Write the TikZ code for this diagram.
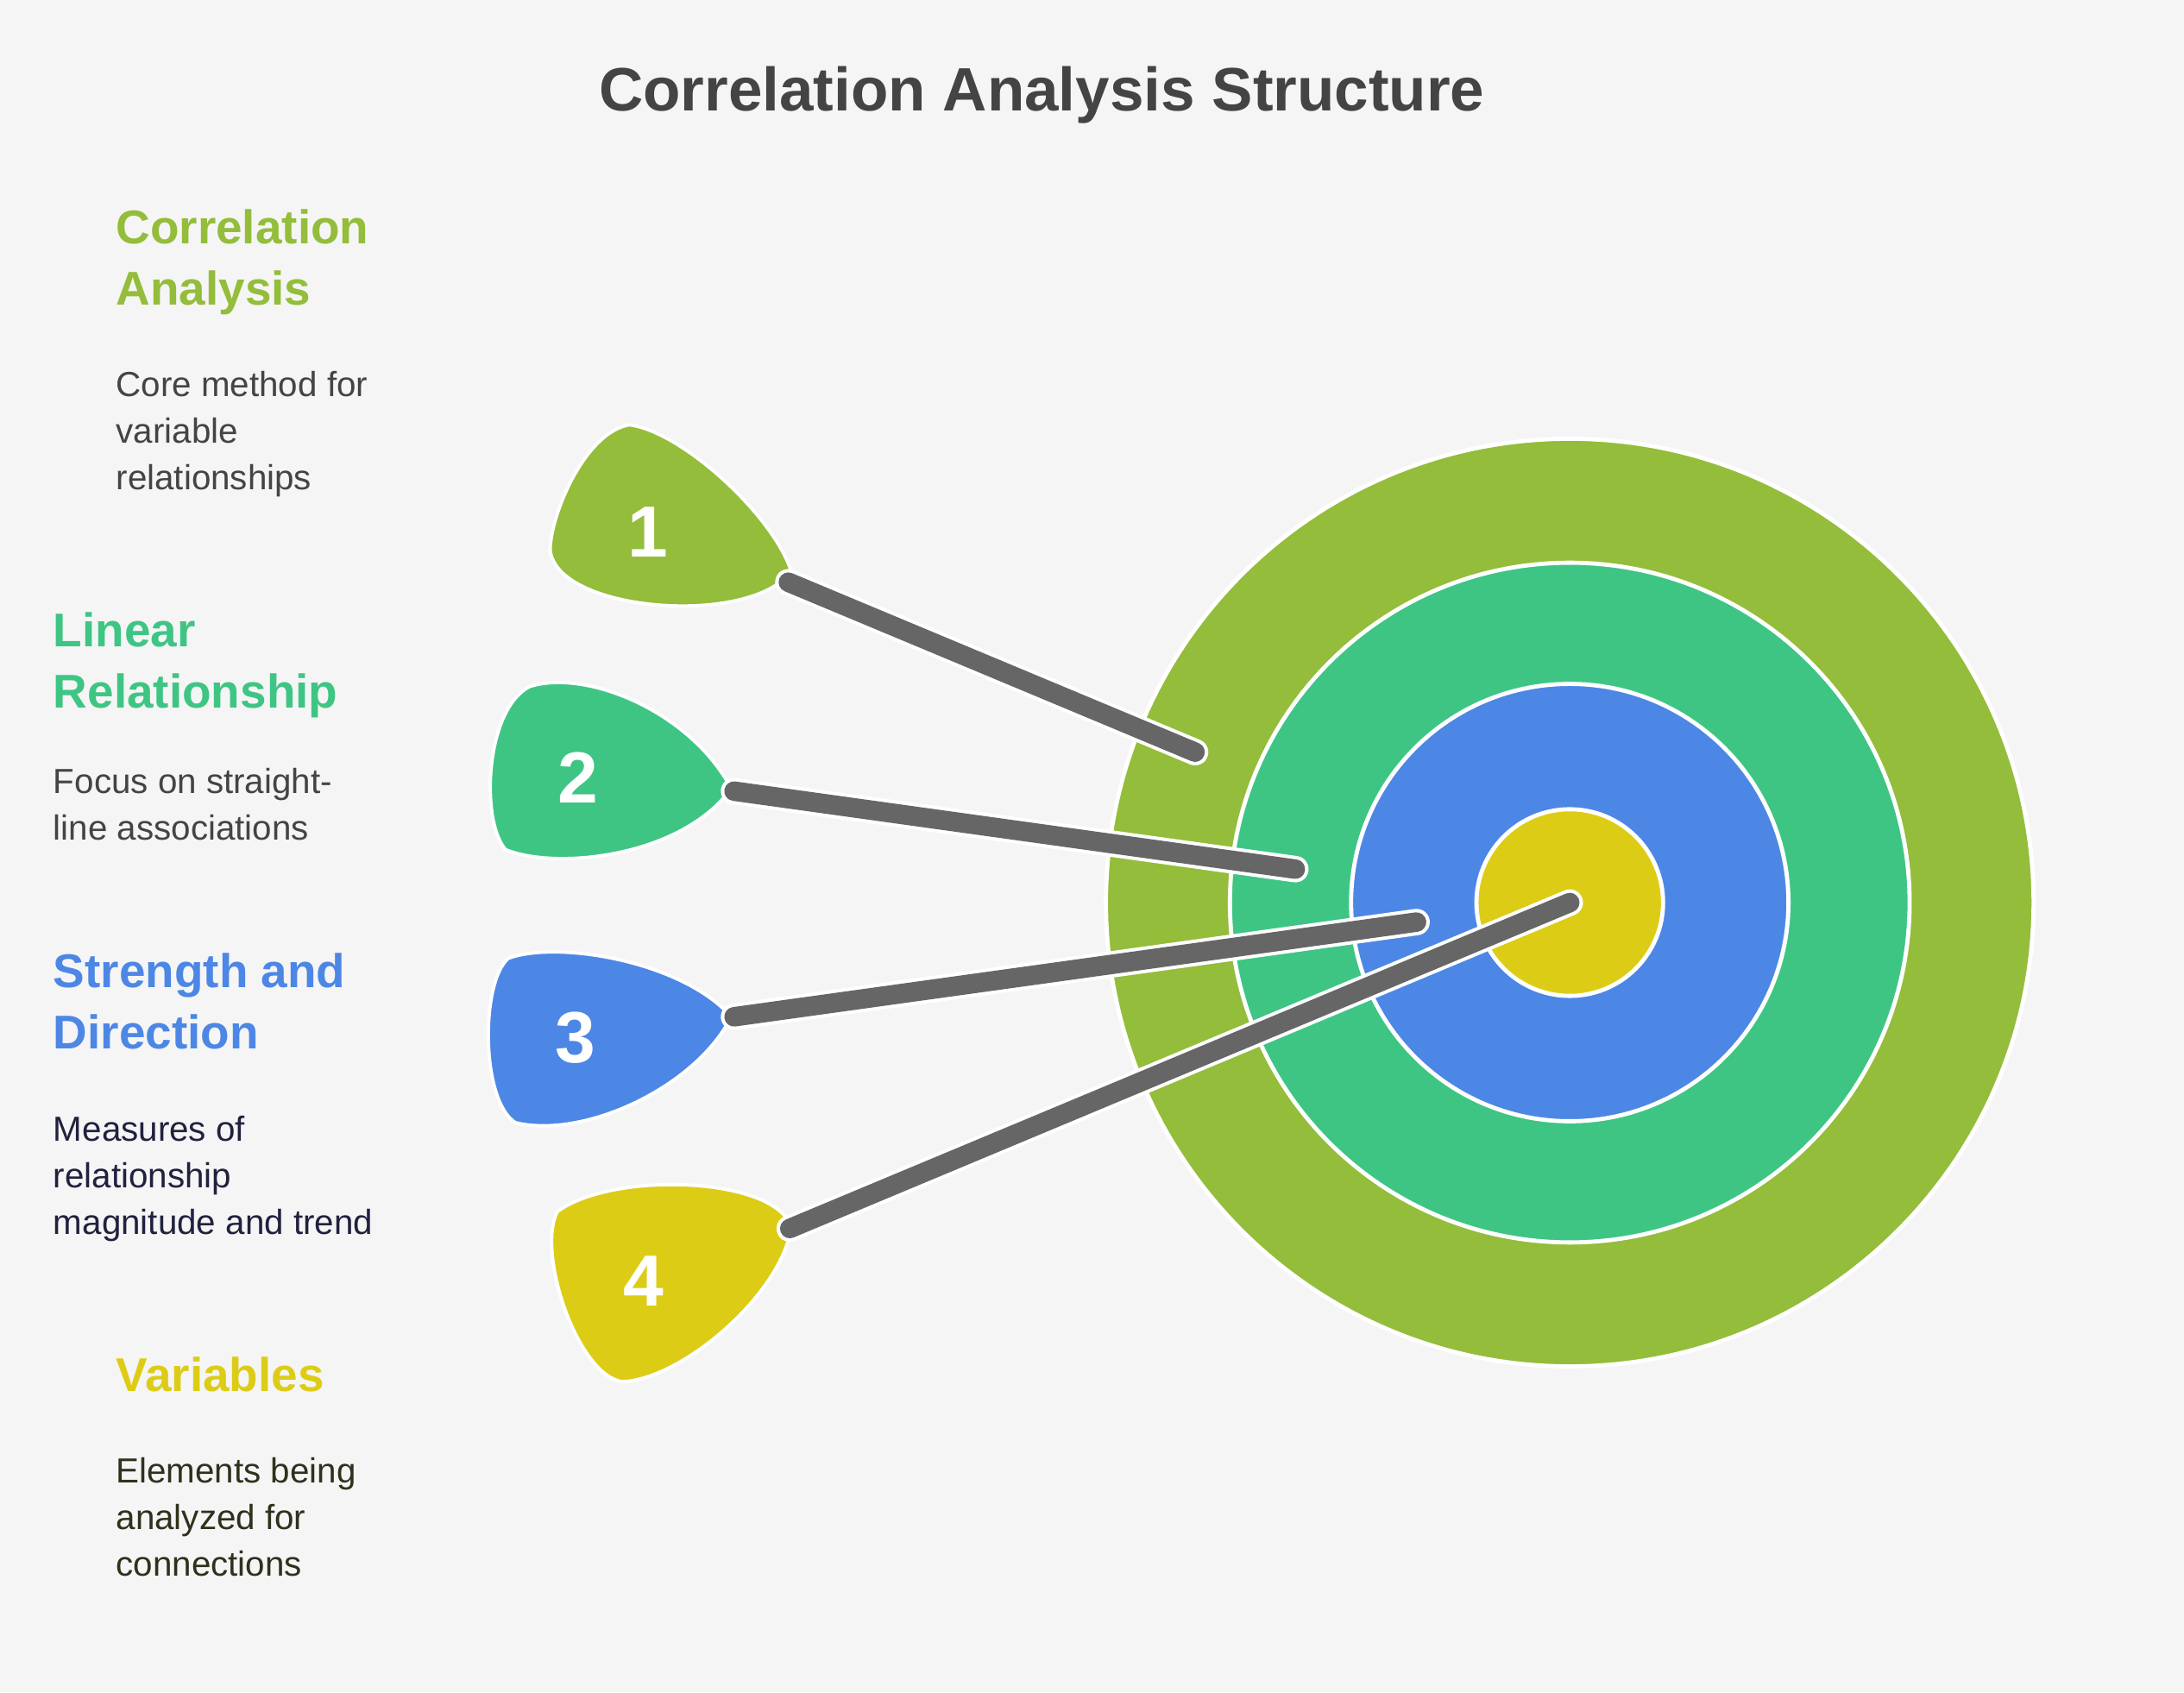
\documentclass[tikz,border=0pt]{standalone}
\usepackage{fontspec}
\setmainfont{Liberation Sans}
\usetikzlibrary{positioning}
\definecolor{bgcol}{HTML}{F5F5F5}
\definecolor{cgreen}{HTML}{93BD3A}
\definecolor{cteal}{HTML}{3EC584}
\definecolor{cblue}{HTML}{4D87E5}
\definecolor{cyellow}{HTML}{DDCC16}
\definecolor{cshaft}{HTML}{666666}
\definecolor{ctitle}{HTML}{444444}
\tikzset{
  ring/.style={draw=white, line width=1.5pt},
  dart/.style={draw=white, line width=1.2pt},
  shaft/.style={draw=cshaft, line width=7pt, line cap=round},
  num/.style={text=white, font=\bfseries\fontsize{26}{30}\selectfont},
  head/.style={anchor=north west, inner sep=0pt, align=left, font=\bfseries\fontsize{17}{22}\selectfont},
  body/.style={anchor=north west, inner sep=0pt, align=left, font=\fontsize{12.5}{16.75}\selectfont},
}
\begin{document}
\begin{tikzpicture}[x=0.5pt,y=-0.5pt]
\fill[bgcol] (0,0) rectangle (1568,1215);
\useasboundingbox (0,0) rectangle (1568,1215);

% title
\node (title) [text=ctitle, font=\bfseries\fontsize{22}{26}\selectfont] at (748,68) {Correlation Analysis Structure};

% target
\coordinate (ctr) at (1127,648);
\filldraw[ring, fill=cgreen] (ctr) circle (333);
\filldraw[ring, fill=cteal] (ctr) circle (244);
\filldraw[ring, fill=cblue] (ctr) circle (157);
\filldraw[ring, fill=cyellow] (ctr) circle (67);

% darts
\filldraw[dart, fill=cgreen] (568,410) .. controls (555,370) and (490,310) .. (452,305) .. controls (420,310) and (395,370) .. (395,395) .. controls (400,440) and (540,450) .. (568,410) -- cycle;
\filldraw[dart, fill=cteal] (525,566) .. controls (495,510) and (420,480) .. (380,493) .. controls (348,510) and (345,590) .. (363,610) .. controls (400,625) and (490,615) .. (525,566) -- cycle;
\filldraw[dart, fill=cblue] (525,730) .. controls (490,690) and (400,675) .. (365,688) .. controls (345,705) and (345,790) .. (370,806) .. controls (420,818) and (500,780) .. (525,730) -- cycle;
\filldraw[dart, fill=cyellow] (568,882) .. controls (560,845) and (440,840) .. (400,870) .. controls (385,900) and (415,988) .. (447,992) .. controls (490,990) and (560,930) .. (568,882) -- cycle;

% shafts
\coordinate (t1) at (566,418); \coordinate (h1) at (858,540);
\coordinate (t2) at (527,568); \coordinate (h2) at (930,624);
\coordinate (t3) at (527,730); \coordinate (h3) at (1017,662);
\coordinate (t4) at (567,882); \coordinate (h4) at (1127,648);
\foreach \i in {1,2,3,4}{
  \draw[white, line width=9.5pt, line cap=round] (t\i) -- (h\i);
  \draw[shaft] (t\i) -- (h\i);
}

\node (n1) [num] at (465,382) {1};
\node (n2) [num] at (415,558) {2};
\node (n3) [num] at (413,745) {3};
\node (n4) [num] at (462,920) {4};

% labels
\node (h-corr) [head, text=cgreen] at (83,150) {Correlation\\Analysis};
\node (b-corr) [body, text=ctitle] at (83,266) {Core method for\\variable\\relationships};
\node (h-lin) [head, text=cteal] at (38,439) {Linear\\Relationship};
\node (b-lin) [body, text=ctitle] at (38,551) {Focus on straight-\\line associations};
\node (h-str) [head, text=cblue] at (38,684) {Strength and\\Direction};
\node (b-str) [body, text=ctitle!80!blue!60!black] at (38,801) {Measures of\\relationship\\magnitude and trend};
\node (h-var) [head, text=cyellow] at (83,974) {Variables};
\node (b-var) [body, text=ctitle!85!yellow!50!black] at (83,1046) {Elements being\\analyzed for\\connections};
\end{tikzpicture}
\end{document}
